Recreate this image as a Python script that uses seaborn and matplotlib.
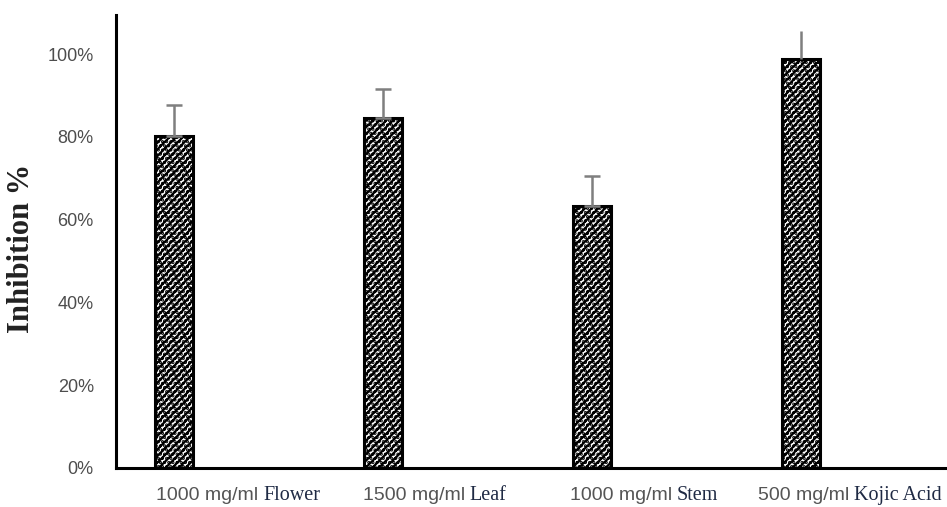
import matplotlib
matplotlib.use("Agg")
import matplotlib.pyplot as plt
import matplotlib.transforms as mtransforms
import seaborn as sns
import pandas as pd

# Tyrosinase inhibition by extract / reference compound
doses = ["1000 mg/ml", "1500 mg/ml", "1000 mg/ml", "500 mg/ml"]
samples = ["Flower", "Leaf", "Stem", "Kojic Acid"]
inhibition = [80.3, 84.5, 63.3, 98.8]      # percent
errors = [7.5, 7.0, 7.2, 6.8]              # percent
yticks = [0, 20, 40, 60, 80, 100]

categories = [f"{d} {s}" for d, s in zip(doses, samples)]
df = pd.DataFrame({"category": categories, "inhibition": inhibition})

sns.set_style("white")
plt.rcParams["hatch.linewidth"] = 1.6
plt.rcParams["hatch.color"] = "black"

fig = plt.figure(figsize=(9.47, 5.07), dpi=100)
ax = fig.add_axes([0.1225, 0.077, 0.8775, 0.893])

sns.barplot(data=df, x="category", y="inhibition", ax=ax, width=0.18,
            color="white", edgecolor="black", linewidth=2.2, saturation=1)

for patch in ax.patches:
    patch.set_hatch("/////....")

# error bars (last one reaches the plot top, so no cap is drawn)
caps = [6, 6, 6, 0]
for i, (v, e) in enumerate(zip(inhibition, errors)):
    ax.errorbar(i, v, yerr=[[0], [e]], fmt="none", ecolor="#7f7f7f",
                elinewidth=1.8, capsize=caps[i], capthick=1.8, zorder=3)

ax.set_xlim(-0.278, 3.70)
ax.set_ylim(0, 109.4)
ax.set_yticks(yticks)
ax.set_yticklabels([f"{t}%" for t in yticks], fontsize=13,
                   color="#4d4d4d", family="Liberation Sans")
ax.tick_params(axis="y", length=0, pad=16)
ax.set_xticks([])
ax.set_xlabel("")
ax.set_ylabel("Inhibition %", fontsize=22, fontweight="bold",
              family="Liberation Serif", color="#222222")
ax.yaxis.set_label_coords(-0.096, 0.486)

for side in ["top", "right"]:
    ax.spines[side].set_visible(False)
for side in ["left", "bottom"]:
    ax.spines[side].set_color("black")
    ax.spines[side].set_linewidth(2.2)

# two-part category labels: dose in sans, sample name in serif
label_x = [-0.085, -0.096, -0.105, -0.206]
trans = mtransforms.blended_transform_factory(ax.transData, ax.transAxes)
for i, (d, s) in enumerate(zip(doses, samples)):
    t = ax.text(i + label_x[i], -0.06, d, transform=trans, ha="left",
                va="center", fontsize=14, color="#555555",
                family="Liberation Sans")
    ax.annotate(s, xy=(1, 0.5), xycoords=t, xytext=(3.5, 0),
                textcoords="offset points", ha="left", va="center",
                fontsize=14.5, color="#1f2a44", family="Liberation Serif")

fig.savefig("out.png", dpi=100)
